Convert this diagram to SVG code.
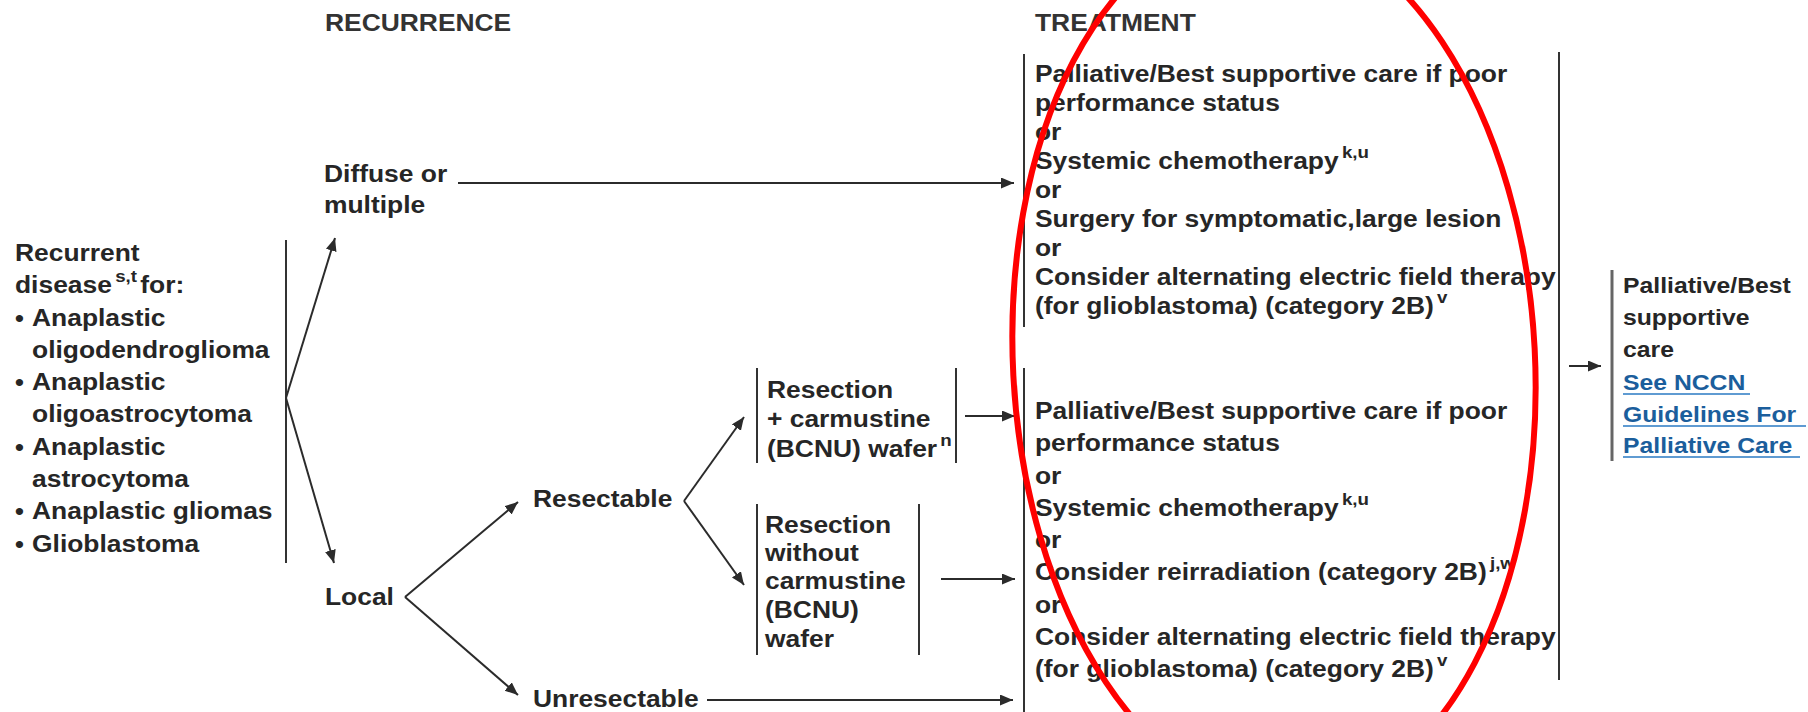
<svg xmlns="http://www.w3.org/2000/svg" width="1808" height="712" viewBox="0 0 1808 712">
<defs>
<marker id="ah" markerUnits="userSpaceOnUse" markerWidth="14" markerHeight="12" refX="13" refY="5.5" orient="auto">
<path d="M0,0 L13,5.5 L0,11 z" fill="#2b2b2b"/>
</marker>
<style>
text{font-family:"Liberation Sans",Arial,Helvetica,sans-serif;font-weight:bold;font-size:24px;fill:#262626}
.hd{fill:#333}
.sm{font-size:22.5px}
.sup{font-size:17px}
.blt{font-size:23px}
.lnk{fill:#1b5e9c}
.ul{stroke:#5f9bd2;stroke-width:2}
.bar{stroke:#333;stroke-width:2;fill:none}
.bar2{stroke:#666;stroke-width:3;fill:none}
.cn{stroke:#2b2b2b;stroke-width:2;fill:none;marker-end:url(#ah)}
</style>
</defs>
<rect width="1808" height="712" fill="#fff"/>

<g id="headings">
<g transform="translate(325,0) scale(1.1,1)"><text class="hd" y="31">RECURRENCE</text></g>
<g transform="translate(1035,0) scale(1.1,1)"><text class="hd" y="31">TREATMENT</text></g>
</g>

<g id="node-recurrent">
<line class="bar" x1="286" y1="240" x2="286" y2="563"/>
<g transform="translate(15,0) scale(1.1,1)">
<text y="261">Recurrent</text>
<text y="293">disease<tspan class="sup" dx="3" dy="-11">s,t</tspan><tspan dx="3" dy="11">for:</tspan></text>
<text class="blt" y="326">•</text><text x="15.5" y="326">Anaplastic</text>
<text x="15.5" y="358">oligodendroglioma</text>
<text class="blt" y="390">•</text><text x="15.5" y="390">Anaplastic</text>
<text x="15.5" y="422">oligoastrocytoma</text>
<text class="blt" y="455">•</text><text x="15.5" y="455">Anaplastic</text>
<text x="15.5" y="487">astrocytoma</text>
<text class="blt" y="519">•</text><text x="15.5" y="519">Anaplastic gliomas</text>
<text class="blt" y="552">•</text><text x="15.5" y="552">Glioblastoma</text>
</g>
</g>

<g id="node-diffuse">
<g transform="translate(324,0) scale(1.1,1)">
<text y="182">Diffuse or</text>
<text y="213">multiple</text>
</g>
</g>

<g id="node-local">
<g transform="translate(325,0) scale(1.1,1)"><text y="605">Local</text></g>
</g>

<g id="node-resectable">
<g transform="translate(533,0) scale(1.1,1)"><text y="507">Resectable</text></g>
</g>

<g id="node-unresectable">
<g transform="translate(533,0) scale(1.1,1)"><text y="707">Unresectable</text></g>
</g>

<g id="node-resection-bcnu">
<line class="bar" x1="757" y1="368" x2="757" y2="463"/>
<line class="bar" x1="956" y1="368" x2="956" y2="463"/>
<g transform="translate(767,0) scale(1.1,1)">
<text y="398">Resection</text>
<text y="427">+ carmustine</text>
<text y="457">(BCNU) wafer<tspan class="sup" dx="3" dy="-11">n</tspan></text>
</g>
</g>

<g id="node-resection-no-bcnu">
<line class="bar" x1="757" y1="504" x2="757" y2="655"/>
<line class="bar" x1="919" y1="504" x2="919" y2="655"/>
<g transform="translate(765,0) scale(1.1,1)">
<text y="533">Resection</text>
<text y="561">without</text>
<text y="589">carmustine</text>
<text y="618">(BCNU)</text>
<text y="647">wafer</text>
</g>
</g>

<g id="node-treatment-1">
<line class="bar" x1="1024" y1="54" x2="1024" y2="327"/>
<g transform="translate(1035,0) scale(1.1,1)">
<text y="82">Palliative/Best supportive care if poor</text>
<text y="111">performance status</text>
<text y="140">or</text>
<text y="169">Systemic chemotherapy<tspan class="sup" dx="3" dy="-11">k,u</tspan></text>
<text y="198">or</text>
<text y="227">Surgery for symptomatic,large lesion</text>
<text y="256">or</text>
<text y="285">Consider alternating electric field therapy</text>
<text y="314">(for glioblastoma) (category 2B)<tspan class="sup" dx="3" dy="-11">v</tspan></text>
</g>
</g>

<g id="node-treatment-2">
<line class="bar" x1="1024" y1="368" x2="1024" y2="712"/>
<g transform="translate(1035,0) scale(1.1,1)">
<text y="419">Palliative/Best supportive care if poor</text>
<text y="451">performance status</text>
<text y="484">or</text>
<text y="516">Systemic chemotherapy<tspan class="sup" dx="3" dy="-11">k,u</tspan></text>
<text y="548">or</text>
<text y="580">Consider reirradiation (category 2B)<tspan class="sup" dx="3" dy="-11">j,w</tspan></text>
<text y="613">or</text>
<text y="645">Consider alternating electric field therapy</text>
<text y="677">(for glioblastoma) (category 2B)<tspan class="sup" dx="3" dy="-11">v</tspan></text>
</g>
</g>

<g id="node-treatment-bracket">
<line class="bar" x1="1559" y1="52" x2="1559" y2="680"/>
</g>

<g id="node-palliative">
<line class="bar2" x1="1612" y1="270" x2="1612" y2="461"/>
<g transform="translate(1623,0) scale(1.1,1)">
<text class="sm" y="293">Palliative/Best</text>
<text class="sm" y="325">supportive</text>
<text class="sm" y="357">care</text>
<text class="sm lnk" y="390">See NCCN</text>
<text class="sm lnk" y="422">Guidelines For</text>
<text class="sm lnk" y="453">Palliative Care</text>
</g>
<line class="ul" x1="1623" y1="394" x2="1750" y2="394"/>
<line class="ul" x1="1623" y1="426" x2="1806" y2="426"/>
<line class="ul" x1="1623" y1="457" x2="1800" y2="457"/>
</g>

<g id="connectors">
<line class="cn" x1="286" y1="398" x2="335" y2="238"/>
<line class="cn" x1="286" y1="398" x2="334" y2="563"/>
<line class="cn" x1="458" y1="183" x2="1014" y2="183"/>
<line class="cn" x1="405" y1="597" x2="518" y2="502"/>
<line class="cn" x1="405" y1="597" x2="518" y2="695"/>
<line class="cn" x1="684" y1="501" x2="744" y2="417"/>
<line class="cn" x1="684" y1="501" x2="744" y2="585"/>
<line class="cn" x1="965" y1="416" x2="1015" y2="416"/>
<line class="cn" x1="941" y1="579" x2="1015" y2="579"/>
<line class="cn" x1="707" y1="700" x2="1013" y2="700"/>
<line class="cn" x1="1569" y1="366" x2="1601" y2="366"/>
</g>

<g id="annotation">
<ellipse cx="1274" cy="362" rx="261" ry="440" transform="rotate(-3 1274 362)" fill="none" stroke="#f00" stroke-width="6"/>
</g>
</svg>
